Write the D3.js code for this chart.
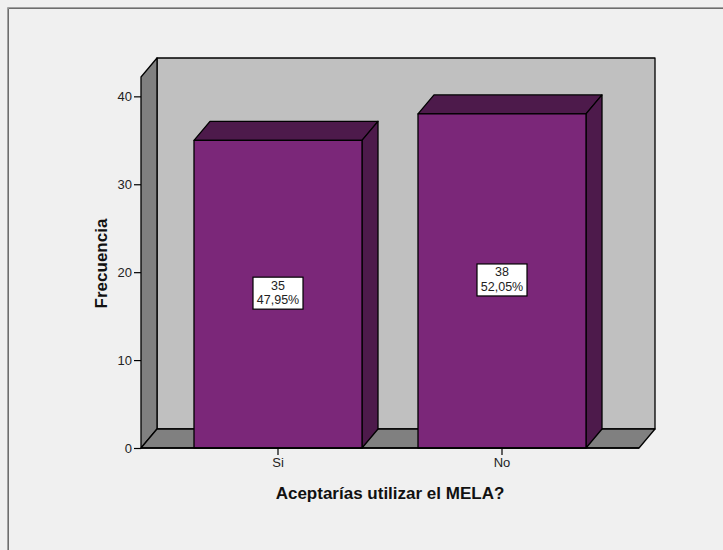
<!DOCTYPE html>
<html>
<head>
<meta charset="utf-8">
<script src="https://cdn.jsdelivr.net/npm/d3@7/dist/d3.min.js"></script>
<style>
  html, body { margin: 0; padding: 0; background: #f0f0f0; }
  svg { display: block; }
  text { font-family: "Liberation Sans", Arial, sans-serif; }
</style>
</head>
<body>
<svg id="chart" width="723" height="550"></svg>
<script>
// Data
const categories = ["Si", "No"];
const counts = [35, 38];
const percents = ["47,95%", "52,05%"];
const yTicks = [0, 10, 20, 30, 40];
const yMax = 42.2;

const svg = d3.select("#chart");
const W = 723, H = 550;

// outer frame
svg.append("rect").attr("x", 0).attr("y", 0).attr("width", W).attr("height", H).attr("fill", "#f0f0f0");
svg.append("path").attr("d", "M7.5,560 V7.5 H740").attr("fill", "none").attr("stroke", "#a0a0a0").attr("stroke-width", 1);
svg.append("path").attr("d", "M8.5,560 V8.5 H740").attr("fill", "none").attr("stroke", "#6e6e6e").attr("stroke-width", 1);

// plot geometry
const floorLeft = 141, floorRight = 639;
const dx = 16, dy = -19;

const y = d3.scaleLinear().domain([0, yMax]).range([448, 77]);
const x = d3.scaleBand().domain(categories)
  .range([floorLeft + 25, floorRight - 25])
  .paddingInner(0.25).paddingOuter(0.125);

const y0 = y(0), yTop = y(yMax);
const outline = { stroke: "#000", "stroke-width": 1.3, "stroke-linejoin": "round" };
function poly(pts, fill) {
  const p = svg.append("polygon")
    .attr("points", pts.map(d => d.join(",")).join(" "))
    .attr("fill", fill);
  Object.entries(outline).forEach(([k, v]) => p.attr(k, v));
  return p;
}

// back wall, left wall, floor
poly([[floorLeft + dx, yTop + dy], [floorRight + dx, yTop + dy], [floorRight + dx, y0 + dy], [floorLeft + dx, y0 + dy]], "#c0c0c0");
poly([[floorLeft, yTop], [floorLeft + dx, yTop + dy], [floorLeft + dx, y0 + dy], [floorLeft, y0]], "#808080");
poly([[floorLeft, y0], [floorLeft + dx, y0 + dy], [floorRight + dx, y0 + dy], [floorRight, y0]], "#808080");

// y axis ticks
const yAxis = svg.append("g").attr("transform", `translate(${floorLeft},0)`)
  .call(d3.axisLeft(y).tickValues(yTicks).tickSize(7).tickPadding(2).tickFormat(d3.format("d")));
yAxis.select(".domain").remove();
yAxis.selectAll("line").attr("stroke", "#000").attr("stroke-width", 1.2);
yAxis.selectAll("text").attr("font-size", 13).attr("fill", "#222")
  .style("font-family", "Liberation Sans, Arial, sans-serif");

// bars
const bars = categories.map((c, i) => ({ c, v: counts[i], p: percents[i] }));
bars.forEach(b => {
  const x0 = x(b.c), x1 = x(b.c) + x.bandwidth(), yv = y(b.v);
  // top face
  poly([[x0, yv], [x0 + dx, yv + dy], [x1 + dx, yv + dy], [x1, yv]], "#4d1a4b");
  // side face
  poly([[x1, yv], [x1 + dx, yv + dy], [x1 + dx, y0 + dy], [x1, y0]], "#4d1a4b");
  // front face
  poly([[x0, yv], [x1, yv], [x1, y0], [x0, y0]], "#7b2779");
});

// x axis
const xAxis = svg.append("g").attr("transform", `translate(0,${y0})`)
  .call(d3.axisBottom(x).tickSize(7).tickPadding(3));
xAxis.select(".domain").remove();
xAxis.selectAll("line").attr("stroke", "#000").attr("stroke-width", 1.2);
xAxis.selectAll("text").attr("font-size", 13).attr("fill", "#222")
  .style("font-family", "Liberation Sans, Arial, sans-serif");
svg.append("line").attr("x1", floorLeft).attr("x2", floorRight)
  .attr("y1", y0).attr("y2", y0).attr("stroke", "#000").attr("stroke-width", 1.5);

// value labels
bars.forEach(b => {
  const cx = x(b.c) + x.bandwidth() / 2;
  const cy = (y(b.v) + y0) / 2 - 1;
  const g = svg.append("g").attr("transform", `translate(${cx},${cy})`);
  const bw = 50, bh = 32;
  g.append("rect").attr("x", -bw / 2).attr("y", -bh / 2).attr("width", bw).attr("height", bh)
    .attr("fill", "#fff").attr("stroke", "#000").attr("stroke-width", 1.2);
  g.append("text").attr("text-anchor", "middle").attr("y", -3.5).attr("font-size", 12.5).attr("fill", "#222").text(b.v);
  g.append("text").attr("text-anchor", "middle").attr("y", 11).attr("font-size", 12.5).attr("fill", "#222").text(b.p);
});

// axis titles
svg.append("text").attr("transform", `translate(107,${(yTop + y0) / 2 + 1}) rotate(-90)`)
  .attr("text-anchor", "middle").attr("font-size", 17).attr("font-weight", "bold").attr("fill", "#111")
  .text("Frecuencia");
svg.append("text").attr("x", 390).attr("y", 499)
  .attr("text-anchor", "middle").attr("font-size", 17).attr("font-weight", "bold").attr("fill", "#111")
  .text("Aceptarías utilizar el MELA?");
</script>
</body>
</html>
